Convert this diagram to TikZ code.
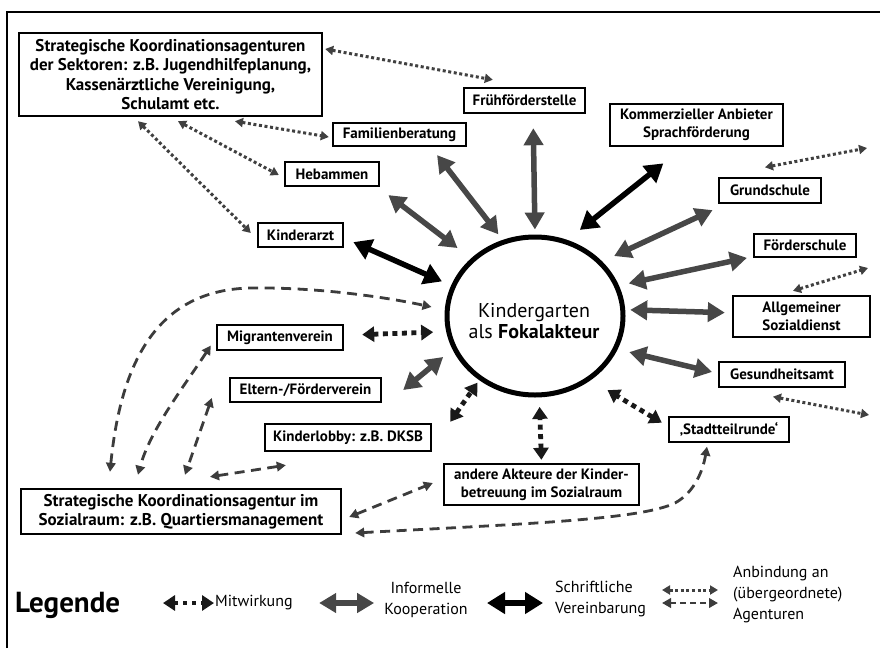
\documentclass[tikz,border=0pt]{standalone}
\usepackage{fontspec}
\setmainfont{PT Sans}
\usetikzlibrary{arrows.meta,shapes.geometric,calc}
\definecolor{infgray}{HTML}{474747}
\definecolor{dotgray}{HTML}{404040}
\definecolor{dashgray}{HTML}{3C3C3C}
\tikzset{
  box/.style={draw, line width=2.4pt, inner sep=0pt, align=center,
    font=\bfseries\fontsize{15pt}{18.5pt}\selectfont},
  bigbox/.style={box, font=\bfseries\fontsize{17pt}{19.5pt}\selectfont},
  inf/.style={draw=infgray, line width=5.5pt,
    {Triangle[length=17pt,width=19pt]}-{Triangle[length=17pt,width=19pt]}},
  ver/.style={draw=black, line width=5.5pt,
    {Triangle[length=18pt,width=21pt]}-{Triangle[length=18pt,width=21pt]}},
  mit/.style={draw=black!90, line width=4.8pt, dash pattern=on 5pt off 4.5pt,
    {Triangle[length=12pt,width=15pt]}-{Triangle[length=12pt,width=15pt]}},
  dotl/.style={draw=dotgray, line width=3pt, dash pattern=on 3pt off 2.6pt,
    {Triangle[length=8pt,width=9pt]}-{Triangle[length=8pt,width=9pt]}},
  dashl/.style={draw=dashgray, line width=2.8pt, dash pattern=on 10pt off 6.5pt,
    {Triangle[length=9pt,width=9.5pt]}-{Triangle[length=9pt,width=9.5pt]}},
  legtext/.style={font=\fontsize{16pt}{21pt}\selectfont, inner sep=0pt}
}
\begin{document}
\begin{tikzpicture}[x={(1pt,0pt)}, y={(0pt,-1pt)}]
\useasboundingbox (0,0) rectangle (880,648);
\draw[line width=1.5pt] (7,648) -- (7,12) -- (880,12);

% boxes
\node[bigbox, minimum width=303pt, minimum height=83pt] (sek) at (170.5,74.5)
  {Strategische Koordinationsagenturen\\der Sektoren: z.B. Jugendhilfeplanung,\\Kassenärztliche Vereinigung,\\Schulamt etc.};
\node[box, minimum width=121pt, minimum height=25pt] (fruh) at (524.5,100.5) {Frühförderstelle};
\node[box, minimum width=133pt, minimum height=23pt] (fam) at (399.5,134.5) {Familienberatung};
\node[box, minimum width=94pt, minimum height=24pt] (heb) at (332,174) {Hebammen};
\node[box, minimum width=85pt, minimum height=24pt] (arzt) at (300.5,235) {Kinderarzt};
\node[box, minimum width=173pt, minimum height=42pt] (komm) at (696.5,125) {Kommerzieller Anbieter\\Sprachförderung};
\node[box, minimum width=102pt, minimum height=25pt] (grund) at (770,190.5) {Grundschule};
\node[box, minimum width=102pt, minimum height=23pt] (foerd) at (805,245.5) {Förderschule};
\node[box, minimum width=137pt, minimum height=41pt] (asd) at (801.5,316.5) {Allgemeiner\\Sozialdienst};
\node[box, minimum width=126pt, minimum height=25pt] (ges) at (782,374.5) {Gesundheitsamt};
\node[box, minimum width=120pt, minimum height=25pt] (stadt) at (729,429.5) {‚Stadtteilrunde‘};
\node[box, minimum width=195pt, minimum height=41pt] (andere) at (541.5,484.5) {andere Akteure der Kinder-\\betreuung im Sozialraum};
\node[box, minimum width=126pt, minimum height=25pt] (migr) at (280,337.5) {Migrantenverein};
\node[box, minimum width=151pt, minimum height=24pt] (eltern) at (305.5,390) {Eltern-/Förderverein};
\node[box, minimum width=166pt, minimum height=27pt] (lobby) at (348,437.5) {Kinderlobby: z.B. DKSB};
\node[bigbox, minimum width=320pt, minimum height=45pt] (quart) at (181,511.5) {Strategische Koordinationsagentur im\\Sozialraum: z.B. Quartiersmanagement};

% focal actor
\node[draw, ellipse, line width=5pt, minimum width=176pt, minimum height=158pt, inner sep=0pt] (circ) at (535,316) {};
\node[align=center, font=\fontsize{20pt}{21pt}\selectfont] (ktext) at (534,321) {Kindergarten\\als \textbf{Fokalakteur}};

% informal cooperation
\draw[inf, shorten <=14pt, shorten >=5pt] (fruh.-58) -- (circ.90);
\draw[inf, shorten <=10pt, shorten >=7pt] (fam.-22) -- (circ.113);
\draw[inf, shorten <=13pt, shorten >=17pt] (heb.-16) -- (circ.138);
\draw[inf, shorten <=14pt, shorten >=13pt] (grund.-163) -- (circ.39);
\draw[inf, shorten <=6pt, shorten >=10pt] (foerd.-168) -- (circ.20);
\draw[inf, shorten <=7pt, shorten >=5pt] (asd.177) -- (circ.4);
\draw[inf, shorten <=6pt, shorten >=12pt] (ges.179) -- (circ.-22);
\draw[inf, shorten >=12pt] ($(eltern.east)+(21,0)$) -- (circ.202);
% written agreements
\draw[ver, shorten <=10pt, shorten >=10pt] (arzt.-4) -- (circ.160);
\draw[ver, shorten <=26pt, shorten >=16pt] (komm.-120) -- (circ.67);
% participation
\draw[mit, shorten <=18pt, shorten >=13pt] (migr.2) -- (circ.190);
\draw[mit, shorten >=3pt] ($(lobby.north east)+(18,-1)$) -- (circ.229);
\draw[mit, shorten <=3pt, shorten >=9.5pt] (andere.north) -- (circ.-87);
\draw[mit, shorten <=7pt, shorten >=19.5pt] (stadt.177) -- (circ.-49);

% links to (higher) agencies: dotted
\draw[dotl] ($(sek.east)+(2,-25.5)$) -- ($(fruh.north west)+(30,-7)$);
\draw[dotl] ($(sek.south)+(64.5,4)$) -- ($(fam.west)+(-3,2.5)$);
\draw[dotl] ($(sek.south)+(7.5,4)$) -- ($(heb.west)+(-5,1)$);
\draw[dotl] ($(sek.south)+(-32.5,4)$) -- ($(arzt.west)+(-6,-2)$);
\coordinate (fr1) at (867,148);
\coordinate (fr2) at (868,268);
\coordinate (fr3) at (869,415);
\draw[dotl] ($(grund.north)+(-5,-9.5)$) -- (fr1);
\draw[dotl] ($(asd.north)+(-8.5,-4)$) -- (fr2);
\draw[dotl] ($(ges.south)+(-9,8.5)$) -- (fr3);

% links to agencies: dashed
\draw[dashl] ($(quart.north)+(-71,-16)$) .. controls (122,350) and (165,290) .. (250,288)
  .. controls (320,287) and (390,298) .. ($(circ.west)+(-13,-9)$);
\draw[dashl] ($(migr.west)+(-5,8)$) .. controls (185,385) and (150,430) .. ($(quart.north)+(-43,-13)$);
\draw[dashl] ($(eltern.west)+(-17,8)$) -- ($(quart.north)+(4,-13)$);
\draw[dashl] ($(quart.north)+(29,-11)$) -- ($(lobby.south west)+(22,13)$);
\draw[dashl] ($(quart.east)+(7,5.5)$) -- ($(andere.west)+(-10,-1.5)$);
\draw[dashl] ($(quart.east)+(13,21.5)$) .. controls (520,524) and (640,520) .. (675,503)
  .. controls (695,492) and (703,470) .. ($(stadt.south)+(-22,3.5)$);

% legend
\node[anchor=base west, inner sep=0pt, font=\bfseries\fontsize{29pt}{32pt}\selectfont] (leg) at (15,612) {Legende};
\node[legtext, anchor=west] (lmit) at (215,603) {Mitwirkung};
\draw[mit, dash pattern=on 4pt off 5pt] ($(lmit.west)+(-52,0)$) -- ($(lmit.west)+(-1,0)$);
\node[legtext, align=center] (linf) at (426,600) {Informelle\\Kooperation};
\draw[inf] ($(linf.west)+(-65,3)$) -- ($(linf.west)+(-10,3)$);
\node[legtext, align=left, anchor=west] (lver) at (555,599) {Schriftliche\\Vereinbarung};
\draw[ver] ($(lver.west)+(-68,4)$) -- ($(lver.west)+(-12,4)$);
\node[legtext, align=left, anchor=west] (lanb) at (733,594) {Anbindung an\\(übergeordnete)\\Agenturen};
\draw[dotl] ($(lanb.west)+(-71,-4)$) -- ($(lanb.west)+(-15,-4)$);
\draw[dashl, dash pattern=on 6pt off 4pt] ($(lanb.west)+(-71,9)$) -- ($(lanb.west)+(-15,9)$);
\end{tikzpicture}
\end{document}
